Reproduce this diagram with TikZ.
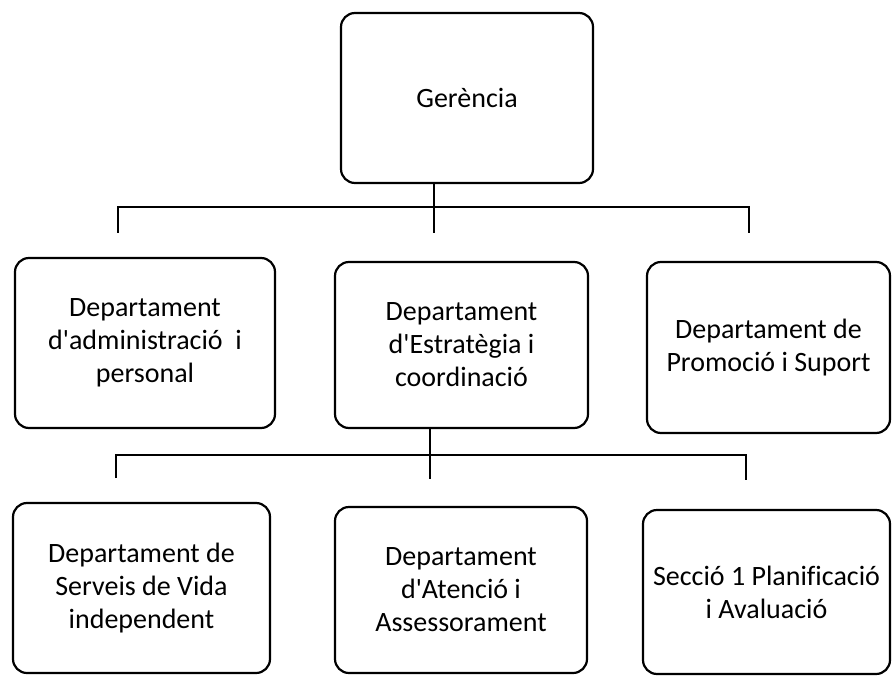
\documentclass[tikz,border=0pt]{standalone}
\usepackage{fontspec}
\newfontfamily\calib{Carlito}[Ligatures=NoCommon]
\usetikzlibrary{positioning}

\begin{document}
\begin{tikzpicture}[x=1pt,y=-1pt,line width=2.2pt,
    unit/.style={draw,rounded corners=14pt,align=center,inner sep=0pt,
      minimum height=170pt,font=\calib\fontsize{28}{33}\selectfont}]
                \useasboundingbox[fill=white] (0,0) rectangle (893,676);
                \node[unit,minimum width=252pt] (ger) at (467,98) {Gerència};
                \node[unit,minimum width=260pt] (adm) at (145,343) {Departament\\d'administració\ \ i\\personal};
                \node[unit,minimum width=253pt,minimum height=166pt] (est) at (461.5,345) {Departament\\d'Estratègia i\\coordinació};
                \node[unit,minimum width=243pt,minimum height=171pt] (prom) at (768.5,347.5) {Departament de\\Promoció i Suport};
                \node[unit,minimum width=257pt] (vida) at (141.5,588) {Departament de\\Serveis de Vida\\independent};
                \node[unit,minimum width=252pt,minimum height=166pt] (aten) at (461,590) {Departament\\d'Atenció i\\Assessorament};
                \node[unit,minimum width=247pt,minimum height=164pt] (plan) at (766.5,592) {Secció 1 Planificació\\i Avaluació};
                % first level
                \coordinate (g1) at (434,233);
                \coordinate (l1) at (118,233);
                \coordinate (r1) at (749,233);
                \coordinate (bar1) at (0,207);
                \draw (ger.south -| g1) -- (g1);
                \draw (l1) -- (l1 |- bar1) -- (r1 |- bar1) -- (r1);
                % second level
                \coordinate (g2) at (430,479);
                \coordinate (l2) at (116,478);
                \coordinate (r2) at (746,480);
                \coordinate (bar2) at (0,455);
                \draw (est.south -| g2) -- (g2);
                \draw (l2) -- (l2 |- bar2) -- (r2 |- bar2) -- (r2);
            \end{tikzpicture}
\end{document}
